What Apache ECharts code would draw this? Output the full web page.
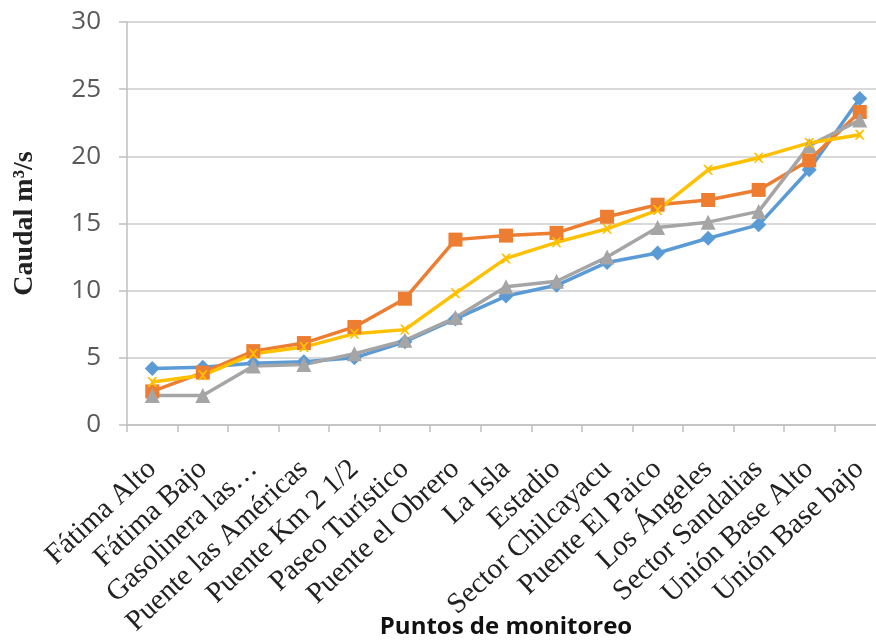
<!DOCTYPE html>
<html>
<head>
<meta charset="utf-8">
<script src="https://cdn.jsdelivr.net/npm/echarts@6/dist/echarts.min.js"></script>
<style>html,body{margin:0;padding:0;background:#fff}#c{width:876px;height:641px}</style>
</head>
<body>
<div id="c"></div>
<script>
const categories = ["Fátima Alto","Fátima Bajo","Gasolinera las…","Puente las Américas","Puente Km 2 1/2","Paseo Turístico","Puente el Obrero","La Isla","Estadio","Sector Chilcayacu","Puente El Paico","Los Ángeles","Sector Sandalias","Unión Base Alto","Unión Base bajo"];
const blueValues   = [4.2, 4.3, 4.6, 4.7, 5.0, 6.2, 7.9, 9.6, 10.4, 12.1, 12.8, 13.9, 14.9, 19.0, 24.3];
const orangeValues = [2.5, 3.9, 5.5, 6.1, 7.3, 9.4, 13.8, 14.1, 14.3, 15.5, 16.4, 16.75, 17.5, 19.7, 23.3];
const grayValues   = [2.2, 2.2, 4.4, 4.5, 5.3, 6.3, 8.0, 10.3, 10.7, 12.5, 14.7, 15.1, 15.9, 20.8, 22.7];
const yellowValues = [3.2, 3.7, 5.3, 5.8, 6.8, 7.1, 9.8, 12.4, 13.6, 14.6, 16.0, 19.0, 19.9, 21.0, 21.6];
const yTicks = [0, 5, 10, 15, 20, 25, 30];

const xPath = 'path://M0,0 L2,0 L5,3 L8,0 L10,0 L6,5 L10,10 L8,10 L5,7 L2,10 L0,10 L4,5 Z';
function mk(name, data, color, symbol, size) {
  return {
    name, type: 'line', data, symbol, symbolSize: size,
    lineStyle: { color, width: 3.5 },
    itemStyle: { color },
    z: 2
  };
}
const chart = echarts.init(document.getElementById('c'));
chart.setOption({
  animation: false,
  grid: { left: 127, top: 22, bottom: 216, right: -9, containLabel: false, outerBoundsMode: 'none' },
  xAxis: {
    type: 'category', data: categories, boundaryGap: true,
    axisLine: { lineStyle: { color: '#bfbfbf', width: 1.5 } },
    axisTick: { show: true, alignWithLabel: false, length: 7, lineStyle: { color: '#bfbfbf', width: 1.5 } },
    axisLabel: { rotate: 43, interval: 0, fontFamily: 'Liberation Serif', fontSize: 29, color: '#222', margin: 40 },
    name: 'Puntos de monitoreo', nameLocation: 'middle', nameGap: 190, nameMoveOverlap: false,
    nameTextStyle: { fontFamily: 'Open Sans', fontWeight: 'bold', fontSize: 24, color: '#111' }
  },
  yAxis: {
    type: 'value', min: 0, max: 30, interval: 5,
    axisLine: { show: true, lineStyle: { color: '#bfbfbf', width: 1.5 } },
    axisTick: { show: true, length: 8, lineStyle: { color: '#bfbfbf', width: 1.5 } },
    splitLine: { lineStyle: { color: '#d9d9d9', width: 2 } },
    axisLabel: { fontFamily: 'Open Sans', fontSize: 26, color: '#595959', margin: 26,
      formatter: v => yTicks.includes(v) ? String(v) : '' },
    name: 'Caudal m³/s', nameLocation: 'middle', nameGap: 88, nameRotate: 90, nameMoveOverlap: false,
    nameTextStyle: { fontFamily: 'Liberation Serif', fontWeight: 'bold', fontSize: 28, color: '#222' }
  },
  series: [
    mk('A', blueValues, '#5b9bd5', 'diamond', 15),
    mk('B', orangeValues, '#ed7d31', 'rect', 14),
    mk('C', grayValues, '#a5a5a5', 'triangle', 15),
    mk('D', yellowValues, '#ffc000', xPath, 10)
  ]
});
</script>
</body>
</html>
